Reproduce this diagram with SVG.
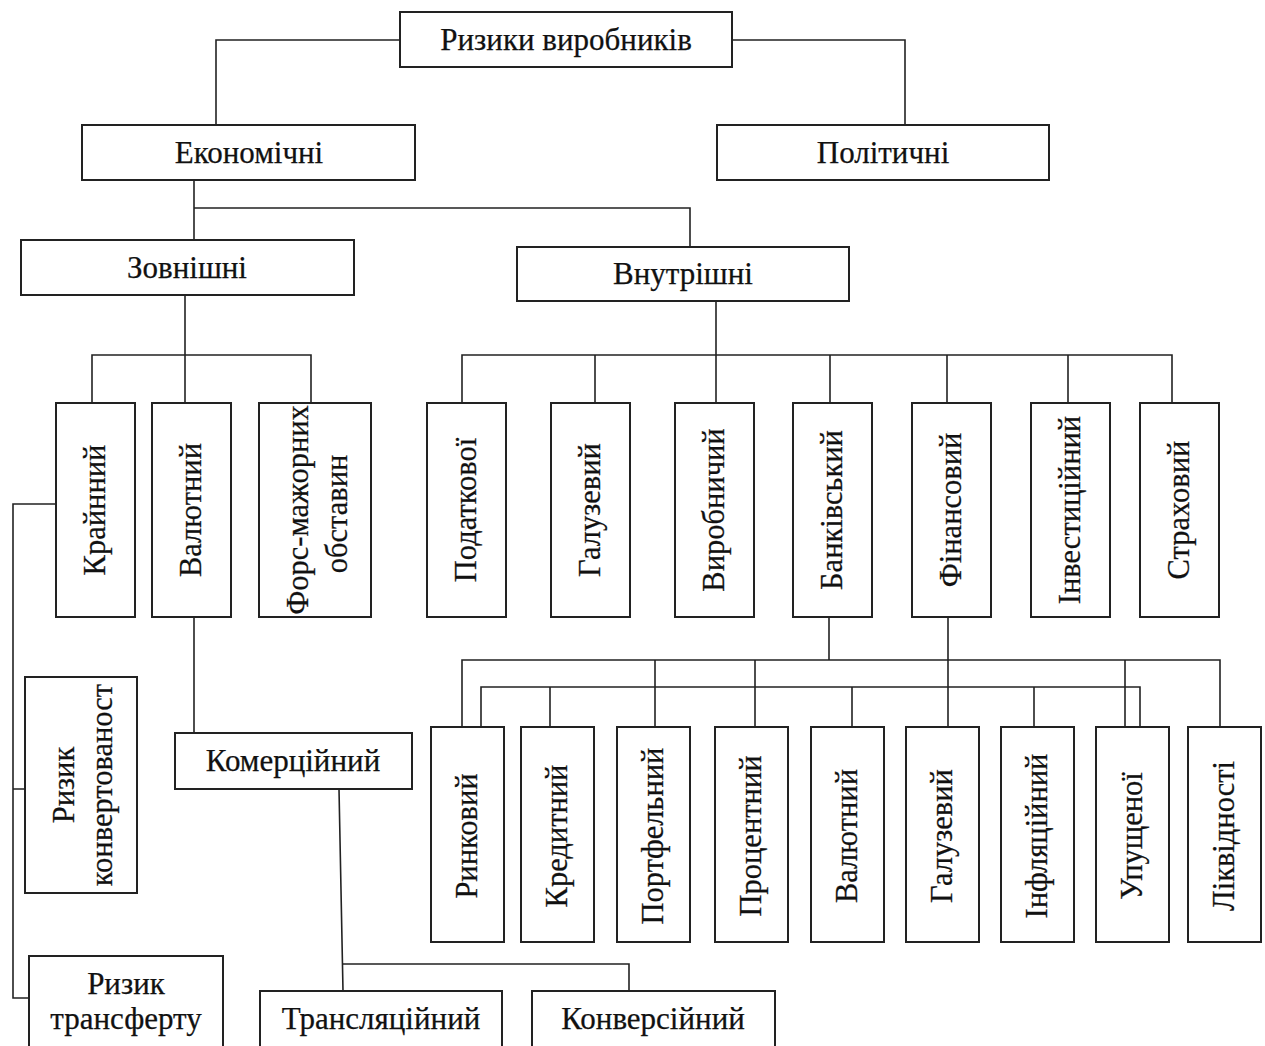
<svg xmlns="http://www.w3.org/2000/svg" width="1265" height="1046" viewBox="0 0 1265 1046">
<style>
.b{fill:#fff;stroke:#222;stroke-width:2}
.c{fill:none;stroke:#222;stroke-width:1.6}
text{font-family:"Liberation Serif","Times New Roman",serif;fill:#111;stroke:#111;stroke-width:0.25}
.h{font-size:31px;text-anchor:middle}
.v{font-size:30.5px;text-anchor:middle;dominant-baseline:central}
</style>
<rect width="1265" height="1046" fill="#fff"/>
<g id="connectors">
<path class="c" d="M400,40 H216 V125 M732,40 H905 V125"/>
<path class="c" d="M194,180 V240 M194,208 H690 V247"/>
<path class="c" d="M185,295 V403 M92,403 V355 H311 V403"/>
<path class="c" d="M716,301 V403 M462,403 V355 H1172 V403 M595,355 V403 M830,355 V403 M947,355 V403 M1068,355 V403"/>
<path class="c" d="M829,617 V660 M948,617 V727 M462,727 V660 H1220 V727 M655,660 V727 M755,660 V727 M1125,660 V727"/>
<path class="c" d="M481,727 V687 H1140 V727 M550,687 V727 M852,687 V727 M1034,687 V727"/>
<path class="c" d="M56,504 H13 V998 H30 M13,789 H26"/>
<path class="c" d="M194,617 V733 M339,789 L343,991 M343,964 H629 V991"/>
</g>
<g id="n-root"><rect class="b" x="400" y="12" width="332" height="55"/><text class="h" x="566" y="50">Ризики виробників</text></g>
<g id="n-econ"><rect class="b" x="82" y="125" width="333" height="55"/><text class="h" x="249" y="163">Економічні</text></g>
<g id="n-pol"><rect class="b" x="717" y="125" width="332" height="55"/><text class="h" x="883" y="163">Політичні</text></g>
<g id="n-ext"><rect class="b" x="21" y="240" width="333" height="55"/><text class="h" x="187" y="278">Зовнішні</text></g>
<g id="n-int"><rect class="b" x="517" y="247" width="332" height="54"/><text class="h" x="683" y="284">Внутрішні</text></g>
<g id="n-krain"><rect class="b" x="56" y="403" width="79" height="214"/><text class="v" transform="translate(95,510) rotate(-90)">Крайнний</text></g>
<g id="n-val1"><rect class="b" x="152" y="403" width="79" height="214"/><text class="v" transform="translate(191,510) rotate(-90)">Валютний</text></g>
<g id="n-fors"><rect class="b" x="259" y="403" width="112" height="214"/><text class="v" transform="translate(298,510) rotate(-90)">Форс-мажорних</text><text class="v" transform="translate(337,514) rotate(-90)">обставин</text></g>
<g id="n-podat"><rect class="b" x="427" y="403" width="79" height="214"/><text class="v" transform="translate(466,510) rotate(-90)">Податкової</text></g>
<g id="n-galuz1"><rect class="b" x="551" y="403" width="79" height="214"/><text class="v" transform="translate(590,510) rotate(-90)">Галузевий</text></g>
<g id="n-vyrob"><rect class="b" x="675" y="403" width="79" height="214"/><text class="v" transform="translate(714,510) rotate(-90)">Виробничий</text></g>
<g id="n-bank"><rect class="b" x="793" y="403" width="79" height="214"/><text class="v" transform="translate(832,510) rotate(-90)">Банківський</text></g>
<g id="n-fin"><rect class="b" x="912" y="403" width="79" height="214"/><text class="v" transform="translate(951,510) rotate(-90)">Фінансовий</text></g>
<g id="n-invest"><rect class="b" x="1031" y="403" width="79" height="214"/><text class="v" transform="translate(1070,510) rotate(-90)">Інвестиційний</text></g>
<g id="n-strah"><rect class="b" x="1140" y="403" width="79" height="214"/><text class="v" transform="translate(1179,510) rotate(-90)">Страховий</text></g>
<g id="n-konv"><rect class="b" x="25" y="677" width="112" height="216"/><text class="v" transform="translate(64,785) rotate(-90)">Ризик</text><text class="v" transform="translate(102,785) rotate(-90)">конвертованост</text></g>
<g id="n-transf"><rect class="b" x="29" y="956" width="194" height="100"/><text class="h" x="126" y="994">Ризик</text><text class="h" x="126" y="1029">трансферту</text></g>
<g id="n-komerc"><rect class="b" x="175" y="733" width="237" height="56"/><text class="h" x="293" y="771">Комерційний</text></g>
<g id="n-transl"><rect class="b" x="260" y="991" width="242" height="65"/><text class="h" x="381" y="1029">Трансляційний</text></g>
<g id="n-konvers"><rect class="b" x="532" y="991" width="243" height="65"/><text class="h" x="653" y="1029">Конверсійний</text></g>
<g id="n-rynk"><rect class="b" x="431" y="727" width="73" height="215"/><text class="v" transform="translate(467,836) rotate(-90)">Ринковий</text></g>
<g id="n-kred"><rect class="b" x="521" y="727" width="73" height="215"/><text class="v" transform="translate(557,836) rotate(-90)">Кредитний</text></g>
<g id="n-portf"><rect class="b" x="617" y="727" width="73" height="215"/><text class="v" transform="translate(653,836) rotate(-90)">Портфельний</text></g>
<g id="n-proc"><rect class="b" x="715" y="727" width="73" height="215"/><text class="v" transform="translate(751,836) rotate(-90)">Процентний</text></g>
<g id="n-val2"><rect class="b" x="811" y="727" width="73" height="215"/><text class="v" transform="translate(847,836) rotate(-90)">Валютний</text></g>
<g id="n-galuz2"><rect class="b" x="906" y="727" width="73" height="215"/><text class="v" transform="translate(942,836) rotate(-90)">Галузевий</text></g>
<g id="n-infl"><rect class="b" x="1001" y="727" width="73" height="215"/><text class="v" transform="translate(1037,836) rotate(-90)">Інфляційний</text></g>
<g id="n-upush"><rect class="b" x="1096" y="727" width="73" height="215"/><text class="v" transform="translate(1132,836) rotate(-90)">Упущеної</text></g>
<g id="n-likv"><rect class="b" x="1188" y="727" width="73" height="215"/><text class="v" transform="translate(1224,836) rotate(-90)">Ліквідності</text></g>
</svg>
